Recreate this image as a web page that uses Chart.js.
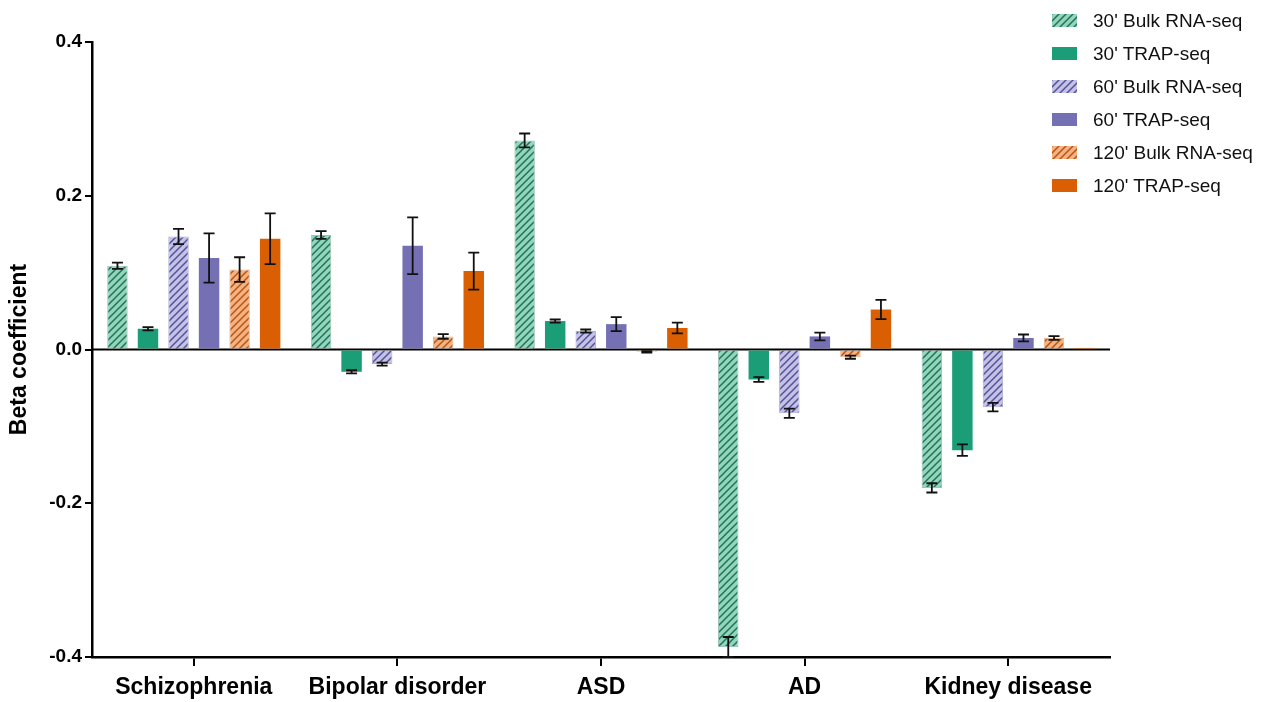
<!DOCTYPE html>
<html>
<head>
<meta charset="utf-8">
<script src="https://cdn.jsdelivr.net/npm/chart.js@4/dist/chart.umd.min.js"></script>
<style>
  html, body { margin: 0; padding: 0; background: #ffffff; }
  #wrap { position: relative; width: 1267px; height: 702px; }
  #chart { position: absolute; left: 0; top: 0; }
  #legend { position: absolute; left: 1052px; top: 4px; font-family: "Liberation Sans", Arial, sans-serif; font-size: 19px; color: #111; }
  .item { display: flex; align-items: center; height: 33px; }
  .item canvas { width: 25px; height: 13px; margin-right: 16px; }
</style>
</head>
<body>
<div id="wrap">
  <canvas id="chart" width="1267" height="702"></canvas>
  <div id="legend"></div>
</div>
<script>
// Disease categories
const categories = ['Schizophrenia', 'Bipolar disorder', 'ASD', 'AD', 'Kidney disease'];

// Beta coefficients per condition
const bulk30  = [0.109, 0.149, 0.272, -0.387, -0.180];
const trap30  = [0.027, -0.029, 0.037, -0.039, -0.131];
const bulk60  = [0.147, -0.019, 0.024, -0.083, -0.075];
const trap60  = [0.119, 0.135, 0.033, 0.017, 0.015];
const bulk120 = [0.104, 0.017, -0.003, -0.010, 0.015];
const trap120 = [0.144, 0.102, 0.028, 0.052, 0.002];

// Standard errors
const bulk30Err  = [0.004, 0.005, 0.009, 0.013, 0.006];
const trap30Err  = [0.002, 0.002, 0.002, 0.003, 0.0075];
const bulk60Err  = [0.010, 0.002, 0.002, 0.006, 0.0055];
const trap60Err  = [0.032, 0.037, 0.009, 0.005, 0.0045];
const bulk120Err = [0.016, 0.003, 0.001, 0.002, 0.0025];
const trap120Err = [0.033, 0.024, 0.007, 0.0125, 0];

// Y axis ticks
const yTicks = [-0.4, -0.2, 0.0, 0.2, 0.4];

function hatch(fill, stroke) {
  const s = 7;
  const c = document.createElement('canvas');
  c.width = s; c.height = s;
  const g = c.getContext('2d');
  g.fillStyle = fill;
  g.fillRect(0, 0, s, s);
  g.strokeStyle = stroke;
  g.lineWidth = 1.5;
  g.beginPath();
  g.moveTo(-1, s + 1); g.lineTo(s + 1, -1);
  g.moveTo(-2, 2); g.lineTo(2, -2);
  g.moveTo(s - 2, s + 2); g.lineTo(s + 2, s - 2);
  g.stroke();
  return g.createPattern(c, 'repeat');
}

const green = '#1b9e77', purple = '#7570b3', orange = '#d95f02';
const greenHatch = hatch('#93d4bd', '#1f7357');
const purpleHatch = hatch('#c4c2e4', '#55509c');
const orangeHatch = hatch('#f4b283', '#b85512');

const datasets = [
  { label: "30' Bulk RNA-seq", data: bulk30, err: bulk30Err, backgroundColor: greenHatch, borderColor: 'rgba(35,122,94,0.45)', borderWidth: 1 },
  { label: "30' TRAP-seq", data: trap30, err: trap30Err, backgroundColor: green, borderWidth: 0 },
  { label: "60' Bulk RNA-seq", data: bulk60, err: bulk60Err, backgroundColor: purpleHatch, borderColor: 'rgba(92,87,163,0.5)', borderWidth: 1 },
  { label: "60' TRAP-seq", data: trap60, err: trap60Err, backgroundColor: purple, borderWidth: 0 },
  { label: "120' Bulk RNA-seq", data: bulk120, err: bulk120Err, backgroundColor: orangeHatch, borderColor: 'rgba(191,90,20,0.45)', borderWidth: 1 },
  { label: "120' TRAP-seq", data: trap120, err: trap120Err, backgroundColor: orange, borderWidth: 0 }
];

// Horizontal line at zero
const zeroLine = {
  id: 'zeroLine',
  beforeDatasetsDraw(chart) {
    const { ctx, chartArea, scales } = chart;
    const y = scales.y.getPixelForValue(0);
    ctx.save();
    ctx.strokeStyle = '#000';
    ctx.lineWidth = 2;
    ctx.beginPath();
    ctx.moveTo(chartArea.left, y);
    ctx.lineTo(chartArea.right, y);
    ctx.stroke();
    ctx.restore();
  }
};

// Symmetric error bars with caps
const errorBars = {
  id: 'errorBars',
  afterDatasetsDraw(chart) {
    const { ctx, scales } = chart;
    ctx.save();
    ctx.strokeStyle = '#111';
    ctx.lineWidth = 1.8;
    chart.data.datasets.forEach((ds, di) => {
      const meta = chart.getDatasetMeta(di);
      meta.data.forEach((bar, i) => {
        const e = ds.err[i];
        if (!e) return;
        const v = ds.data[i];
        const yTop = scales.y.getPixelForValue(v + e);
        const yBot = scales.y.getPixelForValue(v - e);
        const x = bar.x, cap = 5.5;
        ctx.beginPath();
        ctx.moveTo(x, yTop); ctx.lineTo(x, yBot);
        ctx.moveTo(x - cap, yTop); ctx.lineTo(x + cap, yTop);
        ctx.moveTo(x - cap, yBot); ctx.lineTo(x + cap, yBot);
        ctx.stroke();
      });
    });
    ctx.restore();
  }
};

const font = "'Liberation Sans', Arial, sans-serif";

const chart = new Chart(document.getElementById('chart'), {
  type: 'bar',
  data: { labels: categories, datasets },
  options: {
    responsive: false,
    animation: false,
    devicePixelRatio: 1,
    layout: { padding: { top: 42, right: 157, left: 0, bottom: 0 } },
    datasets: { bar: { categoryPercentage: 0.9, barPercentage: 0.67 } },
    plugins: { legend: { display: false }, tooltip: { enabled: false } },
    scales: {
      x: {
        offset: true,
        grid: { display: true, drawOnChartArea: false, drawTicks: true, offset: false, tickLength: 9, color: '#000', lineWidth: 2 },
        border: { display: true, color: '#000', width: 2.5 },
        ticks: { color: '#000', padding: 8, font: { family: font, size: 23, weight: 'bold' } },
        afterFit(s) { s.height = 45; }
      },
      y: {
        min: -0.4, max: 0.4,
        afterBuildTicks(s) { s.ticks = yTicks.map(v => ({ value: v })); },
        grid: { display: true, drawOnChartArea: false, drawTicks: true, tickLength: 7, color: '#000', lineWidth: 2 },
        border: { display: true, color: '#000', width: 2.5 },
        ticks: { color: '#000', padding: 3, font: { family: font, size: 19, weight: 'bold' }, callback: v => v.toFixed(1) },
        title: { display: true, text: 'Beta coefficient', color: '#000', padding: { top: 6, bottom: 0 }, font: { family: font, size: 23, weight: 'bold' } },
        afterFit(s) { s.width = 92; }
      }
    }
  },
  plugins: [zeroLine, errorBars]
});

// Legend built from the datasets
const legend = document.getElementById('legend');
chart.data.datasets.forEach(ds => {
  const row = document.createElement('div');
  row.className = 'item';
  const sw = document.createElement('canvas');
  sw.width = 25; sw.height = 13;
  const g = sw.getContext('2d');
  g.fillStyle = ds.backgroundColor;
  g.fillRect(0, 0, 25, 13);
  const txt = document.createElement('span');
  txt.textContent = ds.label;
  row.appendChild(sw);
  row.appendChild(txt);
  legend.appendChild(row);
});
</script>
</body>
</html>
